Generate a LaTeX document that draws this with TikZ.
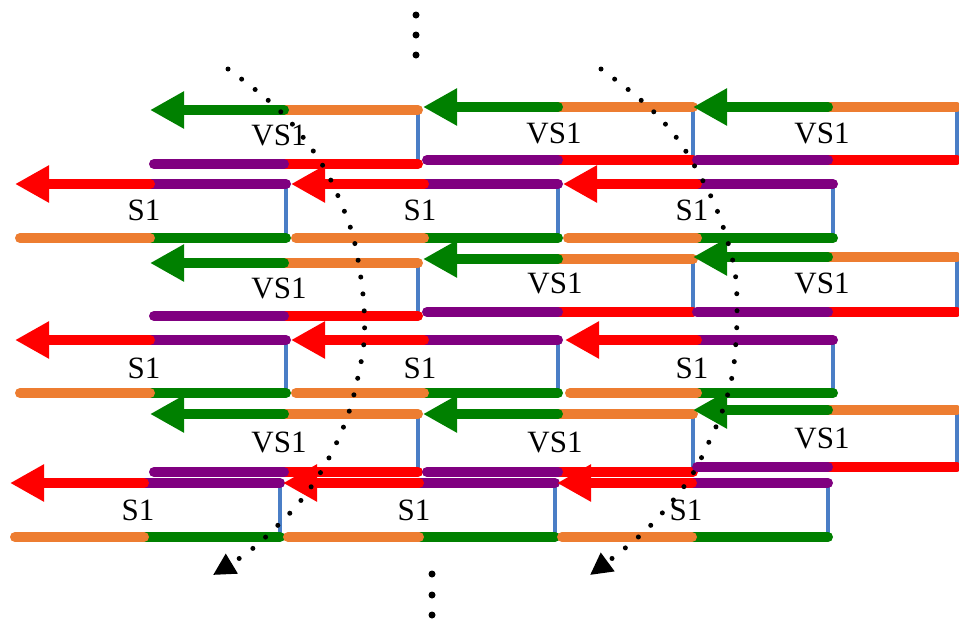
\documentclass[tikz,border=0pt]{standalone}
\usepackage{fontspec}
\setmainfont{Liberation Serif}
\usetikzlibrary{arrows.meta}
\definecolor{cgreen}{RGB}{0,128,0}
\definecolor{corange}{RGB}{237,125,49}
\definecolor{cred}{RGB}{255,0,0}
\definecolor{cpurple}{RGB}{128,0,128}
\definecolor{cblue}{RGB}{74,126,198}
\tikzset{
  band/.style={line width=10pt,line cap=round},
  grn/.style={band,draw=cgreen},
  org/.style={band,draw=corange},
  rd/.style={band,draw=cred},
  pur/.style={band,draw=cpurple},
  bluev/.style={line width=4pt,draw=cblue},
  gtip/.style={-{Triangle[length=34pt,width=35pt]}},
  lbl/.style={inner sep=0pt,font=\fontsize{31}{31}\selectfont},
  dotline/.style={line width=5pt,line cap=round,dash pattern=on 0pt off 17pt,
    -{Triangle[length=22pt,width=22pt]}},
  vdot/.style={fill=black}
}
% VS1 unit: id, x0, xm, x1, ytop, ybot, label x, label y
\newcommand\VSunit[8]{%
  \coordinate (#1-l) at (#2,#5);
  \coordinate (#1-m) at (#3,#5);
  \coordinate (#1-r) at (#4,#5);
  \coordinate (#1-bl) at (#2+4,#6);
  \coordinate (#1-bm) at (#3,#6);
  \coordinate (#1-br) at (#4,#6);
  \draw[bluev] (#1-r) -- (#1-br);
  \draw[org] (#1-m) -- (#1-r);
  \draw[grn,gtip] (#1-m) -- (#1-l);
  \draw[rd] (#1-bm) -- (#1-br);
  \draw[pur] (#1-bl) -- (#1-bm);
  \node[lbl] (#1-t) at (#7,#8) {VS1};
}
% S1 unit: id, x0, xm, x1, ytop, ybot, label x, label y
\newcommand\Sunit[8]{%
  \coordinate (#1-l) at (#2,#5);
  \coordinate (#1-m) at (#3,#5);
  \coordinate (#1-r) at (#4,#5);
  \coordinate (#1-bl) at (#2+5,#6);
  \coordinate (#1-bm) at (#3,#6);
  \coordinate (#1-br) at (#4,#6);
  \draw[bluev] (#1-r) -- (#1-br);
  \draw[pur] (#1-m) -- (#1-r);
  \draw[rd,gtip] (#1-m) -- (#1-l);
  \draw[grn] (#1-bm) -- (#1-br);
  \draw[org] (#1-bl) -- (#1-bm);
  \node[lbl] (#1-t) at (#7,#8) {S1};
}
\begin{document}
\begin{tikzpicture}[x=1pt,y=-1pt]
\useasboundingbox (0,0) rectangle (959,619);
% row 1
\VSunit{va1}{150}{284}{418}{110}{164}{279}{135}
\VSunit{vb1}{423}{558}{693}{107}{160}{554}{133}
\VSunit{vc1}{693}{828}{957}{107}{160}{822}{133}
\Sunit{sa1}{15}{150}{286}{184}{238}{144}{210}
\Sunit{sb1}{291}{424}{558}{184}{238}{420}{210}
\Sunit{sc1}{563}{697}{833}{184}{238}{692}{210}
% row 2
\VSunit{va2}{150}{284}{418}{263}{316}{279}{288}
\VSunit{vb2}{423}{558}{693}{259}{312}{555}{283}
\VSunit{vc2}{693}{828}{957}{257}{312}{822}{283}
\Sunit{sa2}{15}{150}{286}{340}{393}{144}{368}
\Sunit{sb2}{291}{424}{558}{340}{393}{420}{368}
\Sunit{sc2}{565}{697}{833}{340}{393}{692}{368}
% row 3
\VSunit{va3}{150}{284}{418}{414}{472}{279}{442}
\VSunit{vb3}{423}{558}{693}{414}{472}{555}{442}
\VSunit{vc3}{693}{828}{957}{410}{467}{822}{438}
\Sunit{sa3}{10}{144}{280}{483}{537}{138}{510}
\Sunit{sb3}{283}{419}{555}{483}{537}{414}{510}
\Sunit{sc3}{557}{692}{828}{483}{537}{686}{510}
% vertical ellipsis dots
\fill[vdot] (416,15) circle (3.5);
\fill[vdot] (416,35) circle (3.5);
\fill[vdot] (416,55) circle (3.5);
\fill[vdot] (432,574) circle (3.5);
\fill[vdot] (432,595) circle (3.5);
\fill[vdot] (432,615) circle (3.5);
% dotted curved arrows
\draw[dotline] plot[smooth,tension=0.6] coordinates {(228,69) (257,91) (283,114) (306,141) (326,171) (341,203) (353,236) (360,272) (364,307) (364,342) (358,377) (349,412) (336,444) (319,475) (298,504) (273,530) (247,553) (213,575)};
\draw[dotline] plot[smooth,tension=0.6] coordinates {(601,69) (630,91) (656,114) (679,141) (698,172) (714,203) (726,236) (735,272) (737,307) (736,341) (732,377) (722,412) (708,444) (692,475) (670,504) (646,530) (619,553) (590,575)};
\end{tikzpicture}
\end{document}
